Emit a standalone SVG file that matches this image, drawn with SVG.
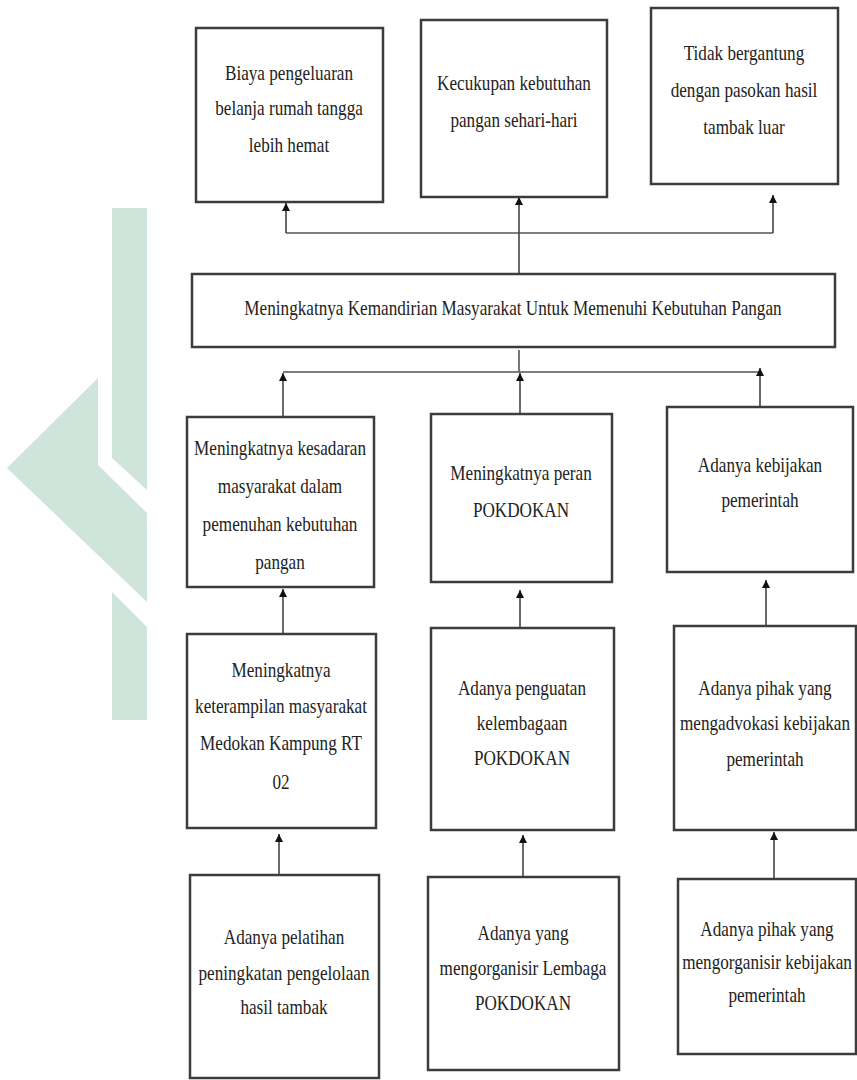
<svg xmlns="http://www.w3.org/2000/svg" width="857" height="1080" viewBox="0 0 857 1080">
<defs>
<marker id="ah" viewBox="0 0 10 10" refX="10" refY="5" markerWidth="11" markerHeight="8" markerUnits="userSpaceOnUse" orient="auto">
<path d="M0,0 L10,5 L0,10 z" fill="#111"/>
</marker>
<style>
.box{fill:#fff;stroke:#3c3c3c;stroke-width:2.5}
.t{font-family:"Liberation Serif","Times New Roman",serif;font-size:22px;fill:#222;text-anchor:middle}
.c{fill:none;stroke:#555;stroke-width:1.6}
.a{fill:none;stroke:#444;stroke-width:1.6;marker-end:url(#ah)}
.wm{fill:#cfe4da}
</style>
</defs>
<rect width="857" height="1080" fill="#fff"/>
<g id="watermark">
<polygon class="wm" points="112,208 147,208 147,490 112,458"/>
<polygon class="wm" points="98,378 98,465 147,513 147,602 7,468"/>
<polygon class="wm" points="112,592 147,627 147,720 112,720"/>
</g>
<g id="connectors">
<polyline class="c" points="286,233 773,233"/>
<line class="a" x1="286" y1="233" x2="286" y2="203"/>
<line class="a" x1="773" y1="233" x2="773" y2="195"/>
<line class="a" x1="519" y1="274" x2="519" y2="197"/>
<line class="c" x1="519" y1="350" x2="519" y2="372"/>
<polyline class="c" points="283,372 760,372"/>
<line class="a" x1="283" y1="417" x2="283" y2="373"/>
<line class="a" x1="520" y1="413" x2="520" y2="373"/>
<line class="a" x1="760" y1="407" x2="760" y2="368"/>
<line class="a" x1="283" y1="634" x2="283" y2="589"/>
<line class="a" x1="520" y1="628" x2="520" y2="590"/>
<line class="a" x1="766" y1="626" x2="766" y2="580"/>
<line class="a" x1="279" y1="875" x2="279" y2="834"/>
<line class="a" x1="523" y1="877" x2="523" y2="835"/>
<line class="a" x1="774" y1="879" x2="774" y2="832"/>
</g>
<g id="n1">
<rect class="box" x="196" y="28" width="187" height="174"/>
<text class="t" transform="translate(289,0) scale(0.78,1)"><tspan x="0" y="80">Biaya pengeluaran</tspan><tspan x="0" y="115">belanja rumah tangga</tspan><tspan x="0" y="152">lebih hemat</tspan></text>
</g>
<g id="n2">
<rect class="box" x="421" y="20" width="186" height="177"/>
<text class="t" transform="translate(514,0) scale(0.78,1)"><tspan x="0" y="90">Kecukupan kebutuhan</tspan><tspan x="0" y="127">pangan sehari-hari</tspan></text>
</g>
<g id="n3">
<rect class="box" x="651" y="8" width="187" height="176"/>
<text class="t" transform="translate(744,0) scale(0.78,1)"><tspan x="0" y="60">Tidak bergantung</tspan><tspan x="0" y="97">dengan pasokan hasil</tspan><tspan x="0" y="134">tambak luar</tspan></text>
</g>
<g id="main">
<rect class="box" x="192" y="274" width="643" height="73"/>
<text class="t" transform="translate(513,0) scale(0.78,1)"><tspan x="0" y="315">Meningkatnya Kemandirian Masyarakat Untuk Memenuhi Kebutuhan Pangan</tspan></text>
</g>
<g id="r3l">
<rect class="box" x="187" y="417" width="187" height="170"/>
<text class="t" transform="translate(280,0) scale(0.78,1)"><tspan x="0" y="455">Meningkatnya kesadaran</tspan><tspan x="0" y="493">masyarakat dalam</tspan><tspan x="0" y="531">pemenuhan kebutuhan</tspan><tspan x="0" y="569">pangan</tspan></text>
</g>
<g id="r3m">
<rect class="box" x="431" y="414" width="181" height="168"/>
<text class="t" transform="translate(521,0) scale(0.78,1)"><tspan x="0" y="480">Meningkatnya peran</tspan><tspan x="0" y="517">POKDOKAN</tspan></text>
</g>
<g id="r3r">
<rect class="box" x="667" y="407" width="186" height="165"/>
<text class="t" transform="translate(760,0) scale(0.78,1)"><tspan x="0" y="472">Adanya kebijakan</tspan><tspan x="0" y="507">pemerintah</tspan></text>
</g>
<g id="r4l">
<rect class="box" x="187" y="634" width="189" height="194"/>
<text class="t" transform="translate(281,0) scale(0.78,1)"><tspan x="0" y="677">Meningkatnya</tspan><tspan x="0" y="713">keterampilan masyarakat</tspan><tspan x="0" y="750">Medokan Kampung RT</tspan><tspan x="0" y="789">02</tspan></text>
</g>
<g id="r4m">
<rect class="box" x="431" y="628" width="183" height="202"/>
<text class="t" transform="translate(522,0) scale(0.78,1)"><tspan x="0" y="695">Adanya penguatan</tspan><tspan x="0" y="730">kelembagaan</tspan><tspan x="0" y="765">POKDOKAN</tspan></text>
</g>
<g id="r4r">
<rect class="box" x="674" y="626" width="182" height="204"/>
<text class="t" transform="translate(765,0) scale(0.78,1)"><tspan x="0" y="695">Adanya pihak yang</tspan><tspan x="0" y="730">mengadvokasi kebijakan</tspan><tspan x="0" y="766">pemerintah</tspan></text>
</g>
<g id="r5l">
<rect class="box" x="190" y="875" width="189" height="203"/>
<text class="t" transform="translate(284,0) scale(0.78,1)"><tspan x="0" y="944">Adanya pelatihan</tspan><tspan x="0" y="980">peningkatan pengelolaan</tspan><tspan x="0" y="1014">hasil tambak</tspan></text>
</g>
<g id="r5m">
<rect class="box" x="428" y="877" width="191" height="193"/>
<text class="t" transform="translate(523,0) scale(0.78,1)"><tspan x="0" y="940">Adanya yang</tspan><tspan x="0" y="975">mengorganisir Lembaga</tspan><tspan x="0" y="1010">POKDOKAN</tspan></text>
</g>
<g id="r5r">
<rect class="box" x="678" y="879" width="178" height="175"/>
<text class="t" transform="translate(767,0) scale(0.78,1)"><tspan x="0" y="936">Adanya pihak yang</tspan><tspan x="0" y="969">mengorganisir kebijakan</tspan><tspan x="0" y="1002">pemerintah</tspan></text>
</g>
</svg>
